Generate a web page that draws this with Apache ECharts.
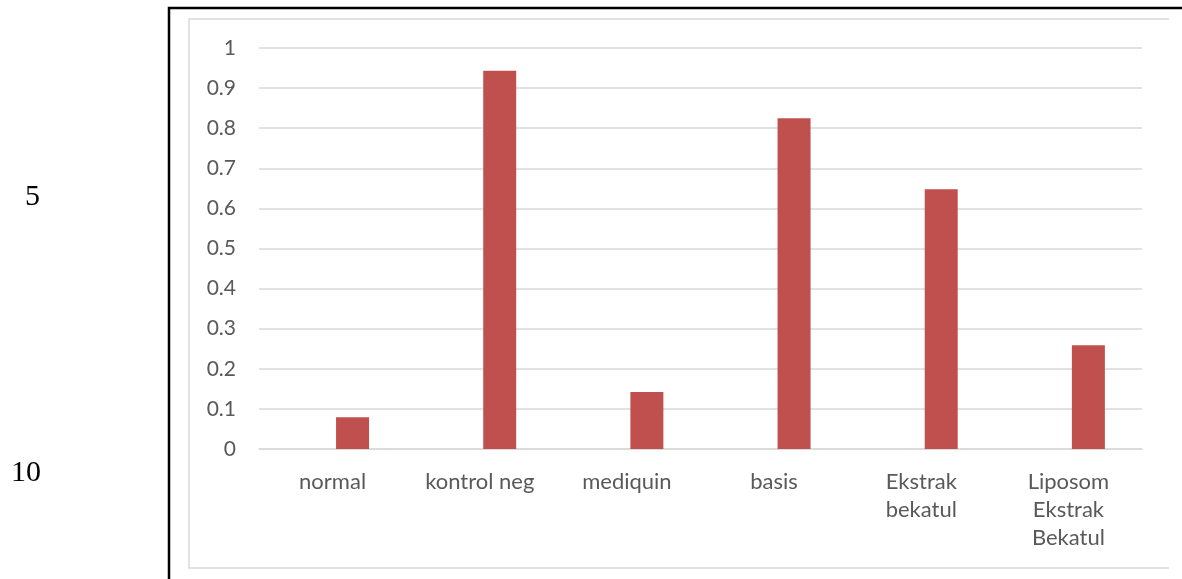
<!DOCTYPE html>
<html>
<head>
<meta charset="utf-8">
<style>
  html, body { margin: 0; padding: 0; background: #fff; }
  #chart { width: 1182px; height: 579px; }
</style>
<script src="https://cdn.jsdelivr.net/npm/echarts@6/dist/echarts.min.js"></script>
</head>
<body>
<div id="chart"></div>
<script>
// data
var categories = ['normal', 'kontrol neg', 'mediquin', 'basis', 'Ekstrak\nbekatul', 'Liposom\nEkstrak\nBekatul'];
var values = [0.079, 0.943, 0.142, 0.825, 0.648, 0.259];
// empty companion series (excel cluster slot), keeps bars off-centre like the original
var emptySlot = [null, null, null, null, null, null];
var lineNumbers = ['5', '10'];

var chart = echarts.init(document.getElementById('chart'));

var option = {
    animation: false,
    backgroundColor: '#fff',
    grid: { left: 259, right: 40, top: 48, bottom: 130 },
    xAxis: {
        type: 'category',
        data: categories,
        axisLine: { lineStyle: { color: '#d9d9d9', width: 1.5 } },
        axisTick: { show: false },
        axisLabel: {
            color: '#595959',
            fontFamily: 'Lato',
            fontSize: 22,
            lineHeight: 28,
            margin: 19
        }
    },
    yAxis: {
        type: 'value',
        min: 0,
        max: 1,
        interval: 0.1,
        axisLine: { show: false },
        axisTick: { show: false },
        splitLine: { lineStyle: { color: '#d9d9d9', width: 1.5 } },
        axisLabel: {
            color: '#595959',
            fontFamily: 'Lato',
            fontSize: 21,
            margin: 23
        }
    },
    series: [{
        type: 'bar',
        data: emptySlot,
        barWidth: 33,
        barGap: '21%'
    }, {
        type: 'bar',
        data: values,
        barWidth: 33,
        barGap: '21%',
        itemStyle: { color: '#c0504d' }
    }],
    graphic: [
        // outer black frame
        { type: 'polyline', shape: { points: [[169, 579], [169, 8], [1182, 8]] },
          style: { stroke: '#000', lineWidth: 2.5, fill: null } },
        // inner chart area frame
        { type: 'polyline', shape: { points: [[1169, 19], [189, 19], [189, 568], [1169, 568]] },
          style: { stroke: '#d9d9d9', lineWidth: 1.5, fill: null } },
        { type: 'text', left: 25, top: 182,
          style: { text: lineNumbers[0], font: '30px "Liberation Serif"', fill: '#000' } },
        { type: 'text', left: 11, top: 458,
          style: { text: lineNumbers[1], font: '30px "Liberation Serif"', fill: '#000' } }
    ]
};

chart.setOption(option);
</script>
</body>
</html>
